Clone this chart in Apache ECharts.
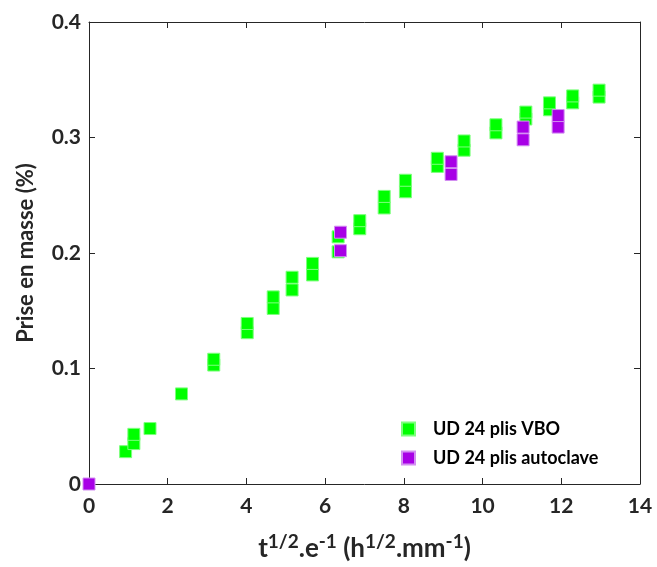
<!DOCTYPE html>
<html><head><meta charset="utf-8">
<script src="https://cdn.jsdelivr.net/npm/echarts@6/dist/echarts.min.js"></script>
<style>html,body{margin:0;padding:0;background:#fff}#c{width:657px;height:567px}</style>
</head><body><div id="c"></div>
<script>
const xTicks = [0, 2, 4, 6, 8, 10, 12, 14];
const yTicks = [0, 0.1, 0.2, 0.3, 0.4];
const seriesNames = ['UD 24 plis VBO', 'UD 24 plis autoclave'];
const vboData = [
  [0.93,0.028],
  [1.14,0.035],[1.14,0.043],
  [1.55,0.048],
  [2.35,0.078],
  [3.17,0.103],[3.17,0.108],
  [4.02,0.131],[4.02,0.139],
  [4.68,0.152],[4.68,0.162],
  [5.16,0.168],[5.16,0.179],
  [5.68,0.181],[5.68,0.191],
  [6.33,0.201],[6.33,0.214],
  [6.88,0.221],[6.88,0.228],
  [7.5,0.239],[7.5,0.249],
  [8.04,0.253],[8.04,0.263],
  [8.85,0.275],[8.85,0.282],
  [9.53,0.289],[9.53,0.297],
  [10.34,0.304],[10.34,0.311],
  [11.1,0.316],[11.1,0.322],
  [11.7,0.324],[11.7,0.330],
  [12.29,0.330],[12.29,0.336],
  [12.96,0.335],[12.96,0.341]
];
const autoclaveData = [
  [0,0],
  [6.39,0.202],[6.39,0.218],
  [9.2,0.268],[9.2,0.279],
  [11.03,0.298],[11.03,0.309],
  [11.92,0.309],[11.92,0.319]
];

const FONT = 'Lato';
const AX = '#262626';
const chart = echarts.init(document.getElementById('c'), null, {renderer:'canvas'});
const baseAxis = {
  axisLine:{show:true, onZero:false, lineStyle:{color:AX, width:1}},
  axisTick:{show:true, inside:true, length:6, lineStyle:{color:AX}},
  splitLine:{show:false}
};
chart.setOption({
  animation:false,
  grid:{left:89, right:17, top:22, bottom:80, containLabel:false},
  legend:{
    orient:'vertical', left:396, top:415, itemWidth:13, itemHeight:13, itemGap:11,
    icon:'rect',
    data:seriesNames,
    textStyle:{fontFamily:FONT, fontWeight:'bold', fontSize:18, color:'#000', padding:[0,0,0,13]}
  },
  xAxis:[Object.assign({}, baseAxis, {
    type:'value', min:xTicks[0], max:xTicks[xTicks.length-1], interval:2, position:'bottom',
    axisLabel:{fontFamily:FONT, fontWeight:'bold', fontSize:21, color:AX, margin:12},
    name:'{b|t}{s|1/2}{b|.e}{s|-1}{b| (h}{s|1/2}{b|.mm}{s|-1}{b|)}',
    nameLocation:'middle', nameGap:48,
    nameTextStyle:{rich:{
      b:{fontFamily:FONT, fontWeight:'bold', fontSize:26, color:AX, lineHeight:30, verticalAlign:'bottom'},
      s:{fontFamily:FONT, fontWeight:'bold', fontSize:19, color:AX, lineHeight:30, verticalAlign:'top'}
    }}
  }), Object.assign({}, baseAxis, {
    type:'value', min:xTicks[0], max:xTicks[xTicks.length-1], interval:2, position:'top',
    axisLabel:{show:false}
  })],
  yAxis:[Object.assign({}, baseAxis, {
    type:'value', min:yTicks[0], max:yTicks[yTicks.length-1], interval:0.1, position:'left',
    axisLabel:{fontFamily:FONT, fontWeight:'bold', fontSize:21, color:AX, margin:8,
      formatter:v=> v===0 ? '0' : v.toFixed(1)},
    name:'Prise en masse (%)', nameLocation:'middle', nameGap:52,
    nameTextStyle:{fontFamily:FONT, fontWeight:'bold', fontSize:22, color:AX}
  }), Object.assign({}, baseAxis, {
    type:'value', min:yTicks[0], max:yTicks[yTicks.length-1], interval:0.1, position:'right',
    axisLabel:{show:false}
  })],
  series:[
    {name:seriesNames[0], type:'scatter', symbol:'rect', symbolSize:12, data:vboData, clip:false,
     itemStyle:{color:'#00ff00', opacity:1, borderColor:'#7dff7d', borderWidth:1}},
    {name:seriesNames[1], type:'scatter', symbol:'rect', symbolSize:12, data:autoclaveData, clip:false,
     itemStyle:{color:'#a800e6', opacity:1, borderColor:'#d38ff2', borderWidth:1}}
  ]
});
</script></body></html>
